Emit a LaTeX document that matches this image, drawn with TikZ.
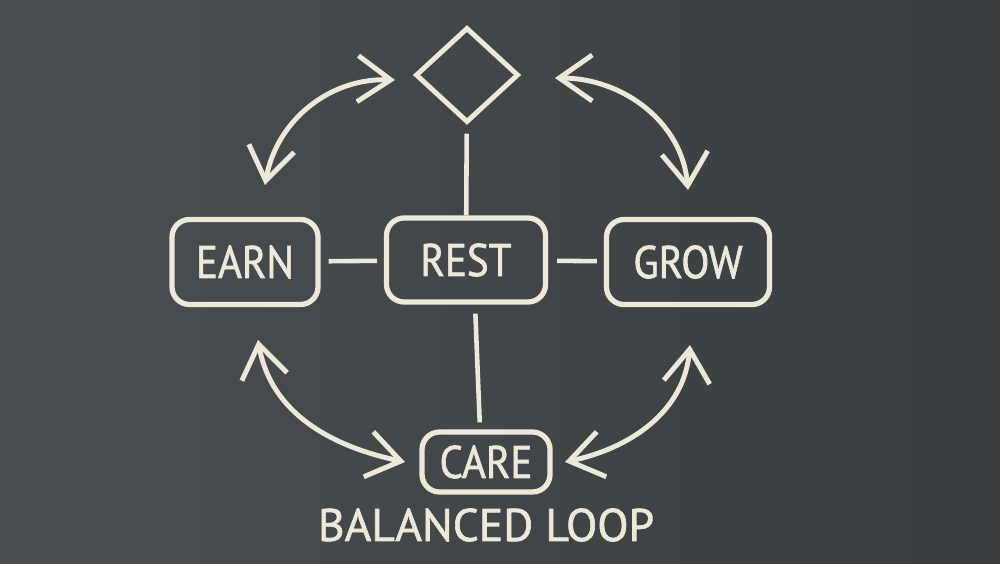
\documentclass[tikz,border=0pt]{standalone}
\usepackage{fontspec}
\setmainfont{PT Sans}
\newfontfamily\boxfont[FakeBold=1.4, FakeStretch=0.9]{PT Sans}
\newfontfamily\titlefont[FakeBold=1.4]{PT Sans}
\usepackage{tikz}
\usetikzlibrary{shapes,shapes.geometric,arrows.meta,positioning}

\definecolor{board}{HTML}{3A3D40}
\definecolor{boardlight}{HTML}{4B4E51}
\definecolor{chalk}{HTML}{ECE8DC}

\begin{document}
\begin{tikzpicture}[
    box/.style={rectangle, rounded corners=5pt, draw=chalk, line width=1.5pt, text=chalk, font=\boxfont\fontsize{13}{15}\selectfont, inner sep=0pt},
    chalkline/.style={draw=chalk, line width=1.3pt},
    chalkarrow/.style={draw=chalk, line width=1.4pt, {Straight Barb[length=3.3mm,width=4.6mm]}-{Straight Barb[length=3.3mm,width=4.6mm]}}
]
    % Board
    \useasboundingbox (0,0) rectangle (10,5.63);
    \shade[left color=boardlight, right color=board] (0,0) rectangle (10,5.63);

    % Boxes
    \node[diamond, draw=chalk, line width=1.4pt, minimum width=1.03cm, minimum height=0.95cm, inner sep=0pt] (goal) at (4.67,4.88) {};
    \node[box, minimum width=1.59cm, minimum height=0.84cm] (rest) at (4.66,3.03) {REST};
    \node[box, minimum width=1.46cm, minimum height=0.85cm] (earn) at (2.45,3.01) {EARN};
    \node[box, minimum width=1.63cm, minimum height=0.85cm] (grow) at (6.88,3.01) {GROW};
    \node[box, minimum width=1.28cm, minimum height=0.60cm] (care) at (4.86,1.01) {CARE};
    \node[text=chalk, font=\titlefont\fontsize{13}{15}\selectfont] (title) at (4.86,0.38) {BALANCED LOOP};

    % Links
    \draw[chalkline, shorten <=0.09cm] (goal) -- (rest);
    \draw[chalkline, shorten <=0.08cm, shorten >=0.07cm] (earn) -- (rest);
    \draw[chalkline, shorten <=0.09cm, shorten >=0.07cm] (rest) -- (grow);
    \draw[chalkline, shorten <=0.09cm, shorten >=0.07cm] ([xshift=0.09cm]rest.south) -- ([xshift=-0.06cm]care.north);

    % Arrow ends
    \coordinate (tl1) at (2.65,3.78);
    \coordinate (tl2) at (3.95,4.83);
    \coordinate (tr1) at (5.55,4.85);
    \coordinate (tr2) at (6.88,3.73);
    \coordinate (bl1) at (2.58,2.23);
    \coordinate (bl2) at (4.05,1.01);
    \coordinate (br1) at (6.90,2.18);
    \coordinate (br2) at (5.65,1.01);

    % Cycle arrows
    \draw[chalkarrow] (tl1) to[out=80, in=178] (tl2);
    \draw[chalkarrow] (tr1) to[out=0, in=95] (tr2);
    \draw[chalkarrow] (bl1) to[out=-80, in=168] (bl2);
    \draw[chalkarrow] (br1) to[out=-95, in=12] (br2);
\end{tikzpicture}
\end{document}
